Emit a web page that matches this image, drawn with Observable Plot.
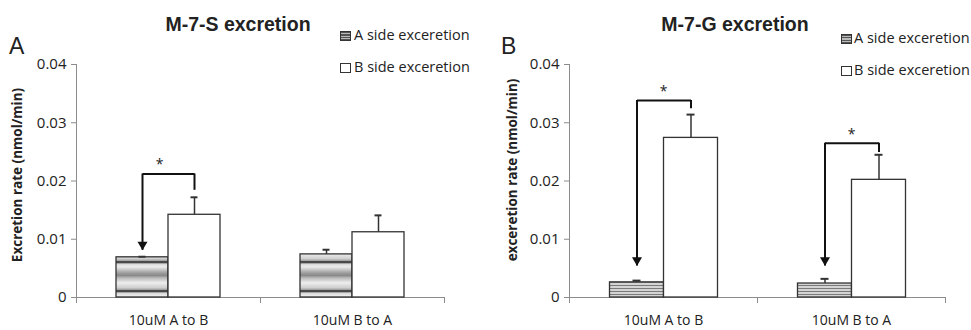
<!DOCTYPE html>
<html><head><meta charset="utf-8">
<script src="https://cdn.jsdelivr.net/npm/d3@7"></script>
<script src="https://cdn.jsdelivr.net/npm/@observablehq/plot@0.6"></script>
<style>
body{margin:0;background:#fff;}
#wrap{position:relative;width:971px;height:330px;overflow:hidden;font-family:"Open Sans",sans-serif;color:#222}
.panel{position:absolute;top:0}
.t{position:absolute;white-space:nowrap;line-height:1}
.title{font-family:"Liberation Sans",Arial,sans-serif;font-weight:bold;font-size:19.5px;transform:translateX(-50%)}
.letter{font-family:"Liberation Sans",Arial,sans-serif;font-size:23px}
.leg{font-size:14.5px}
.sw{position:absolute;width:9px;height:8px;border:1px solid #333;background:#fff}
.sw.a{background:repeating-linear-gradient(#555 0 1px,#bbb 1px 2.5px)}
.ylab{font-weight:bold;font-size:13.5px;transform:translate(-50%,-50%) rotate(-90deg)}
</style></head><body><div id="wrap"></div>
<script>
// ---- shared categories / series / ticks
const categories = ["10uM A to B", "10uM B to A"];
const series = ["A side exceretion", "B side exceretion"];
const yTicks = [0, 0.01, 0.02, 0.03, 0.04];

// ---- Panel A: M-7-S excretion
const sAside = [0.0069, 0.0074];
const sAsideErr = [0.0001, 0.0008];
const sBside = [0.0142, 0.0112];
const sBsideErr = [0.0030, 0.0029];
const sBracketCat = ["10uM A to B"];
const sBracketLevel = [0.0212];
const sBracketTip = [0.0081];
const sBracketEnd = [0.0184];

// ---- Panel B: M-7-G excretion
const gAside = [0.0026, 0.0024];
const gAsideErr = [0.0003, 0.0008];
const gBside = [0.0274, 0.0202];
const gBsideErr = [0.0040, 0.0043];
const gBracketCat = ["10uM A to B", "10uM B to A"];
const gBracketLevel = [0.0338, 0.0265];
const gBracketTip = [0.0054, 0.0054];
const gBracketEnd = [0.0324, 0.0249];

const axisColor = "#8c8c8c";

function panel(cfg) {
  const {width, marginLeft, marginRight, patternId, aVals, aErr, bVals, bErr, bCats, bLevel, bTip, bEnd, starDx} = cfg;
  const rows = categories.flatMap((c, i) => [
    {cat: c, series: series[0], value: aVals[i], err: aErr[i]},
    {cat: c, series: series[1], value: bVals[i], err: bErr[i]}
  ]);
  const brackets = bCats.map((c, i) => ({cat: c, level: bLevel[i], tip: bTip[i], end: bEnd[i]}));
  const height = 330, marginTop = 64, marginBottom = 33;
  const inner = height - marginTop - marginBottom;
  const svg = Plot.plot({
    width, height, marginLeft, marginRight, marginTop, marginBottom,
    style: {fontFamily: "Open Sans", fontSize: "14px", color: "#222", background: "transparent", overflow: "visible"},
    fx: {domain: categories, padding: 0, label: null},
    x: {domain: series, paddingInner: 0, paddingOuter: 0.74, axis: null},
    y: {domain: [0, 0.04], label: null},
    marks: [
      Plot.ruleY([0], {stroke: axisColor}),
      Plot.frame({anchor: "left", facetAnchor: "left", insetBottom: -5, stroke: axisColor}),
      Plot.frame({anchor: "left", insetTop: inner, insetBottom: -5, stroke: axisColor}),
      Plot.frame({anchor: "right", facetAnchor: "right", insetTop: inner, insetBottom: -5, stroke: axisColor}),
      Plot.axisY({ticks: yTicks, tickSize: 5, tickPadding: 5, tickFormat: d => d === 0 ? "0" : d.toFixed(2), stroke: axisColor, fill: "#222", label: null, fontSize: 15}),
      Plot.axisFx({anchor: "bottom", tickSize: 0, tickPadding: 18, label: null, fill: "#222", fontSize: 14}),
      // bars
      Plot.barY(rows.filter(d => d.series === series[0]), {fx: "cat", x: "series", y: "value", fill: `url(#${patternId})`, stroke: "#333", strokeWidth: 1.3}),
      Plot.barY(rows.filter(d => d.series === series[1]), {fx: "cat", x: "series", y: "value", fill: "white", stroke: "#333", strokeWidth: 1.3}),
      // error bars (upper)
      Plot.ruleX(rows, {fx: "cat", x: "series", y1: "value", y2: d => d.value + d.err, stroke: "#333", strokeWidth: 1.5}),
      Plot.tickY(rows, {fx: "cat", x: "series", y: d => d.value + d.err, stroke: "#333", strokeWidth: 2, insetLeft: (cfg.bw - 8) / 2, insetRight: (cfg.bw - 8) / 2}),
      // significance brackets
      Plot.link(brackets, {fx: "cat", x1: () => series[0], x2: () => series[1], y1: "level", y2: "level", stroke: "#111", strokeWidth: 2}),
      Plot.ruleX(brackets, {fx: "cat", x: () => series[0], y1: "level", y2: "tip", stroke: "#111", strokeWidth: 2}),
      Plot.ruleX(brackets, {fx: "cat", x: () => series[1], y1: "level", y2: "end", stroke: "#111", strokeWidth: 2}),
      Plot.dot(brackets, {fx: "cat", x: () => series[0], y: "tip", symbol: "triangle", rotate: 180, r: 3.7, dy: -5.8, fill: "#111", stroke: "none"}),
      Plot.text(brackets, {fx: "cat", y: "level", text: () => "*", dy: -9, dx: starDx, fontSize: 14, fill: "#222"})
    ]
  });
  return svg;
}

function addPatterns(svg) {
  const defs = d3.select(svg).insert("defs", ":first-child");
  // panel A coarse horizontal stripes
  const gA = defs.append("linearGradient").attr("id", "gradA").attr("x1", 0).attr("y1", 0).attr("x2", 0).attr("y2", 1);
  [[0, "#4a4a4a"], [0.06, "#4a4a4a"], [0.1, "#d8d8d8"], [0.2, "#ececec"], [0.42, "#9a9a9a"], [0.5, "#8a8a8a"], [0.58, "#b8b8b8"], [0.75, "#eeeeee"], [0.92, "#cfcfcf"], [1, "#9a9a9a"]]
    .forEach(([o, c]) => gA.append("stop").attr("offset", o).attr("stop-color", c));
  const pA = defs.append("pattern").attr("id", "stripesA").attr("patternUnits", "userSpaceOnUse").attr("width", 20).attr("height", 29);
  pA.append("rect").attr("width", 20).attr("height", 29).attr("fill", "url(#gradA)");
  // panel B fine stripes
  const pB = defs.append("pattern").attr("id", "stripesB").attr("patternUnits", "userSpaceOnUse").attr("width", 20).attr("height", 3);
  pB.append("rect").attr("width", 20).attr("height", 3).attr("fill", "#d4d4d4");
  pB.append("rect").attr("width", 20).attr("height", 1).attr("fill", "#7a7a7a");
}

const wrap = document.getElementById("wrap");

const svgA = panel({width: 485, marginLeft: 75, marginRight: 41, bw: 53, patternId: "stripesA",
  aVals: sAside, aErr: sAsideErr, bVals: sBside, bErr: sBsideErr,
  bCats: sBracketCat, bLevel: sBracketLevel, bTip: sBracketTip, bEnd: sBracketEnd, starDx: -9});
const svgB = panel({width: 486, marginLeft: 83.5, marginRight: 26.5, bw: 54, patternId: "stripesB",
  aVals: gAside, aErr: gAsideErr, bVals: gBside, bErr: gBsideErr,
  bCats: gBracketCat, bLevel: gBracketLevel, bTip: gBracketTip, bEnd: gBracketEnd, starDx: 0});
addPatterns(svgA);
addPatterns(svgB);

const dA = document.createElement("div"); dA.className = "panel"; dA.style.left = "0px"; dA.appendChild(svgA);
const dB = document.createElement("div"); dB.className = "panel"; dB.style.left = "485px"; dB.appendChild(svgB);
wrap.appendChild(dA); wrap.appendChild(dB);

function addText(cls, text, left, top, extra) {
  const el = document.createElement("div");
  el.className = "t " + cls;
  el.textContent = text;
  el.style.left = left + "px";
  el.style.top = top + "px";
  if (extra) Object.assign(el.style, extra);
  wrap.appendChild(el);
  return el;
}
function addSwatch(cls, left, top) {
  const el = document.createElement("div");
  el.className = "sw " + cls;
  el.style.left = left + "px";
  el.style.top = top + "px";
  wrap.appendChild(el);
}

// titles & panel letters
addText("title", "M-7-S excretion", 238, 15);
addText("title", "M-7-G excretion", 735, 15);
addText("letter", "A", 9, 35);
addText("letter", "B", 501, 35);
// y-axis titles
addText("ylab", "Excretion rate (nmol/min)", 18, 175);
addText("ylab", "exceretion rate (nmol/min)", 513, 170);
// legends
addSwatch("a", 340, 31); addText("leg", series[0], 354, 28);
addSwatch("", 340, 63); addText("leg", series[1], 354, 60);
addSwatch("a", 841, 34); addText("leg", series[0], 854, 31);
addSwatch("", 841, 66); addText("leg", series[1], 854, 63);
</script>
</body></html>
